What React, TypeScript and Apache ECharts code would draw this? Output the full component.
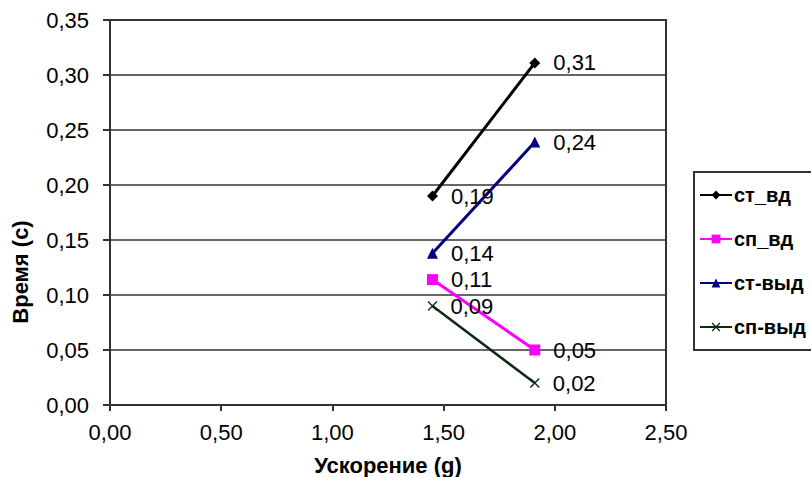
import React, { useEffect, useRef } from "react";
import * as echarts from "echarts";

const seriesNames = ["ст_вд", "сп_вд", "ст-выд", "сп-выд"];
const xValues = [1.45, 1.91];
const stVd = [0.19, 0.311];
const spVd = [0.114, 0.05];
const stVyd = [0.138, 0.239];
const spVyd = [0.09, 0.02];
const xTicks = { min: 0, max: 2.5, interval: 0.5 };
const yTicks = { min: 0, max: 0.35, interval: 0.05 };

const FONT = "'Liberation Sans', Arial, sans-serif";
const fmt = (v: number) => v.toFixed(2).replace(".", ",");
const crossPath =
  "path://M0,1L1,0L5,4L9,0L10,1L6,5L10,9L9,10L5,6L1,10L0,9L4,5Z";

export default function App() {
  const ref = useRef<HTMLDivElement>(null);
  useEffect(() => {
    if (!ref.current) return;
    const chart = echarts.init(ref.current, undefined, { renderer: "svg" });
    const pts = (ys: number[]) => xValues.map((x, i) => [x, ys[i]]);
    const label = {
      show: true,
      position: "right",
      distance: 13,
      fontSize: 22,
      fontFamily: FONT,
      color: "#000",
      formatter: (p: any) => fmt(p.value[1]),
    };
    const mk = (
      name: string,
      ys: number[],
      color: string,
      symbol: string,
      size: number,
      width: number
    ) => ({
      name,
      type: "line",
      data: pts(ys),
      symbol,
      symbolSize: size,
      lineStyle: { color, width },
      itemStyle: { color },
      label,
      z: 3,
    });
    chart.setOption({
      animation: false,
      backgroundColor: "#fff",
      grid: {
        left: 110,
        right: 145,
        top: 20,
        bottom: 72,
        show: true,
        borderColor: "#333",
        borderWidth: 2,
      },
      xAxis: {
        type: "value",
        min: xTicks.min,
        max: xTicks.max,
        interval: xTicks.interval,
        axisLine: { show: true, lineStyle: { color: "#333", width: 2 } },
        axisTick: { show: true, inside: false, length: 6, lineStyle: { color: "#333", width: 2 } },
        splitLine: { show: false },
        axisLabel: {
          fontSize: 22,
          fontFamily: FONT,
          color: "#000",
          margin: 16,
          formatter: (v: number) => fmt(v),
        },
      },
      yAxis: {
        type: "value",
        min: yTicks.min,
        max: yTicks.max,
        interval: yTicks.interval,
        axisLine: { show: true, lineStyle: { color: "#333", width: 2 } },
        axisTick: { show: true, inside: false, length: 7, lineStyle: { color: "#333", width: 2 } },
        splitLine: { show: true, lineStyle: { color: "#333", width: 1.5 } },
        axisLabel: {
          fontSize: 22,
          fontFamily: FONT,
          color: "#000",
          margin: 21,
          formatter: (v: number) => fmt(v),
        },
      },
      legend: {
        orient: "vertical",
        left: 694,
        top: 172,
        padding: [13, 40, 13, 5],
        itemGap: 24,
        itemWidth: 32,
        itemHeight: 11,
        borderColor: "#333",
        borderWidth: 2,
        data: seriesNames,
        textStyle: {
          fontSize: 20,
          lineHeight: 20,
          fontWeight: "bold",
          fontFamily: FONT,
          color: "#000",
          padding: [0, 0, 0, -3],
        },
      },
      graphic: [
        {
          type: "text",
          x: 20,
          y: 272,
          rotation: Math.PI / 2,
          style: {
            text: "Время (с)",
            fontSize: 22,
            fontWeight: "bold",
            fontFamily: FONT,
            fill: "#000",
            align: "center",
            verticalAlign: "middle",
          },
        },
        {
          type: "text",
          x: 388,
          y: 465,
          style: {
            text: "Ускорение (g)",
            fontSize: 22,
            fontWeight: "bold",
            fontFamily: FONT,
            fill: "#000",
            align: "center",
            verticalAlign: "middle",
          },
        },
      ],
      series: [
        mk(seriesNames[0], stVd, "#000000", "diamond", 11, 3),
        mk(seriesNames[1], spVd, "#ff00ff", "rect", 11, 3),
        mk(seriesNames[2], stVyd, "#000080", "triangle", 11, 3),
        mk(seriesNames[3], spVyd, "#0d2b12", crossPath, 10, 2.5),
      ],
    });
    return () => chart.dispose();
  }, []);
  return (
    <div
      ref={ref}
      style={{ position: "fixed", left: 0, top: 0, width: 811, height: 477, background: "#fff" }}
    />
  );
}
